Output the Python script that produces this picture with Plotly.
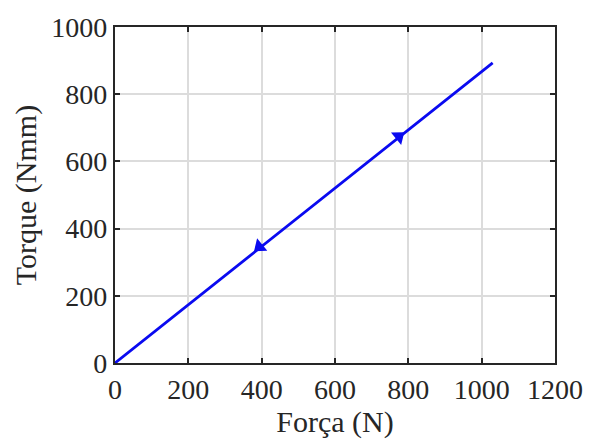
import math
import plotly.graph_objects as go

# Loading and unloading path: force (N) vs torque (Nmm)
forca = [0, 1030, 0]
torque = [0, 893, 0]

# Direction markers along the path
seta_forca = [394, 774]
seta_torque = [346, 674]

x_ticks = [0, 200, 400, 600, 800, 1000, 1200]
y_ticks = [0, 200, 400, 600, 800, 1000]

FONT = "Liberation Serif"
W, H = 595, 441
ML, MR, MT, MB = 115, 38, 19, 78
pw, ph = W - ML - MR, H - MT - MB

# marker rotation following the slope in screen space
sx = pw / 1200.0
sy = ph / 1000.0
ang = math.degrees(math.atan2(torque[1] * sy, forca[1] * sx))
rot_up = 90 - ang
angles = [rot_up + 180, rot_up]

fig = go.Figure()
fig.add_trace(go.Scatter(
    x=forca, y=torque, mode="lines",
    line=dict(color="#0a0af0", width=2.8),
    hoverinfo="skip", showlegend=False,
))
fig.add_trace(go.Scatter(
    x=seta_forca, y=seta_torque, mode="markers",
    marker=dict(symbol="triangle-up", size=14, color="#0a0af0",
                angle=angles, line=dict(width=0)),
    showlegend=False,
))

axis_common = dict(
    showline=True, linecolor="#262626", linewidth=2.2, mirror="ticks",
    ticks="inside", ticklen=5, tickwidth=1.5, tickcolor="#262626",
    showgrid=True, gridcolor="#dcdcdc", gridwidth=1.5,
    zeroline=False,
    tickfont=dict(family=FONT, size=28, color="#262626"),
)

fig.update_xaxes(
    range=[0, 1200], tickvals=x_ticks,
    title=dict(text="Força (N)", font=dict(family=FONT, size=30, color="#262626"), standoff=2),
    **axis_common,
)
fig.update_yaxes(
    range=[0, 1000], tickvals=y_ticks,
    title=dict(text="Torque (Nmm)", font=dict(family=FONT, size=30, color="#262626"), standoff=6),
    **axis_common,
)

fig.update_layout(
    width=W, height=H,
    margin=dict(l=ML, r=MR, t=MT, b=MB),
    paper_bgcolor="white", plot_bgcolor="white",
)

fig.write_html("out.html")
